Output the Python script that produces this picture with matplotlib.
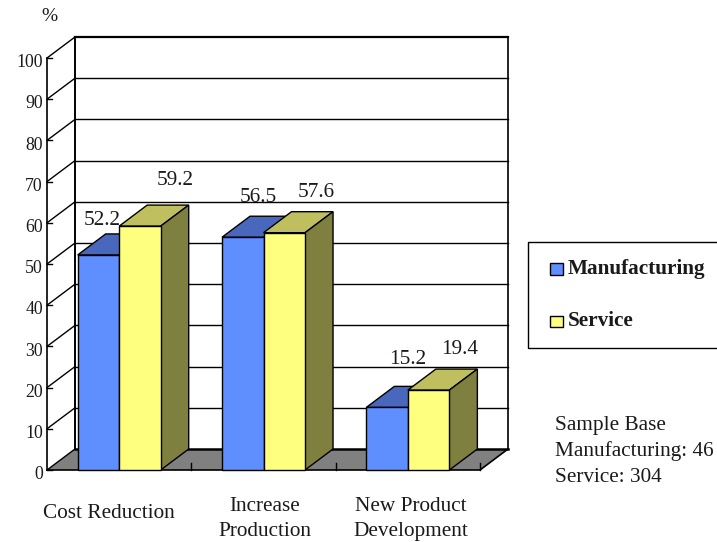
#!/usr/bin/env python3
import matplotlib
matplotlib.use('Agg')
import matplotlib.pyplot as plt
from matplotlib.patches import Polygon, Rectangle

categories = ['Cost Reduction', 'Increase\nProduction', 'New Product\nDevelopment']
manufacturing = [52.2, 56.5, 15.2]
service = [59.2, 57.6, 19.4]
y_ticks = [0, 10, 20, 30, 40, 50, 60, 70, 80, 90, 100]
sample_base = ['Sample Base', 'Manufacturing: 46', 'Service: 304']

W, H = 717, 542
DX = 28 / 144.33   # depth offset in category units
DY = 21 / 4.12     # depth offset in value units
BAR_W = 41.5 / 144.33
GAP = 30.7 / 144.33
TXT = '#1a1a1a'
FS = 15.3

plt.rcParams['font.family'] = ['Liberation Serif', 'DejaVu Serif']


def fx(px):
    return px / W


def fy(py):
    return 1 - py / H


def draw_bar(ax, x0, val, front, top, side):
    x1 = x0 + BAR_W
    edge = dict(edgecolor='black', linewidth=1.0, joinstyle='miter', clip_on=False, zorder=3)
    ax.add_patch(Polygon([(x0, val), (x0 + DX, val + DY), (x1 + DX, val + DY), (x1, val)], facecolor=top, **edge))
    ax.add_patch(Polygon([(x1, 0), (x1 + DX, DY), (x1 + DX, val + DY), (x1, val)], facecolor=side, **edge))
    ax.add_patch(Rectangle((x0, 0), BAR_W, val, facecolor=front, **edge))


fig = plt.figure(figsize=(W / 100, H / 100), dpi=100)
ax = fig.add_axes([fx(47), fy(470), 433 / W, 412 / H])
ax.set_xlim(0, len(categories))
ax.set_ylim(0, 100)
ax.axis('off')

n = len(categories)

# floor
ax.add_patch(Polygon([(0, 0), (n, 0), (n + DX, DY), (DX, DY)], facecolor='#808080', edgecolor='none', clip_on=False, zorder=1))
ax.plot([DX, n + DX], [DY, DY], color='black', lw=1.8, clip_on=False, zorder=2)

# walls and grid
for t in y_ticks:
    top = t == y_ticks[-1]
    if t > 0:
        ax.plot([DX, n + DX], [t + DY, t + DY], color='black', lw=1.6 if top else 1.0, clip_on=False, zorder=2)
    ax.plot([0, DX], [t, t + DY], color='black', lw=1.0, clip_on=False, zorder=2)
    ax.plot([0, 5 / 144.33], [t, t], color='black', lw=1.0, clip_on=False, zorder=2)
    ax.text(-4 / 144.33, t - 1.15, str(t), ha='right', va='center', fontsize=12.8, color=TXT)
ax.plot([0, 0], [0, 100], color='black', lw=1.2, clip_on=False, zorder=2)
ax.plot([DX, DX], [DY, 100 + DY], color='black', lw=1.4, clip_on=False, zorder=2)
ax.plot([n + DX, n + DX], [DY, 100 + DY], color='black', lw=1.2, clip_on=False, zorder=2)

# front baseline and category ticks
ax.plot([0, n, n + DX], [0, 0, DY], color='black', lw=1.2, clip_on=False, zorder=2)
for i in range(1, n + 1):
    ax.plot([i, i], [0, 1.8], color='black', lw=1.0, clip_on=False, zorder=2)

# bars, blue first so the yellow one overlaps it
for i in range(n):
    x0 = i + GAP
    draw_bar(ax, x0, manufacturing[i], '#5F8FFF', '#4A67BE', '#3F5FA0')
    draw_bar(ax, x0 + BAR_W, service[i], '#FFFF7F', '#BFBF5F', '#7F7F3F')

# value labels sit at hand-placed spots in the original
m_offsets = [(4, 34), (16, 40), (21, 48)]
s_offsets = [(35, 46), (32, 40), (31, 41)]
for i in range(n):
    x0 = i + GAP
    ax.annotate(f'{manufacturing[i]}', (x0 + BAR_W / 2, manufacturing[i]), xytext=m_offsets[i],
                textcoords='offset pixels', ha='center', va='center', fontsize=FS, color=TXT,
                annotation_clip=False, zorder=5)
    ax.annotate(f'{service[i]}', (x0 + 1.5 * BAR_W, service[i]), xytext=s_offsets[i],
                textcoords='offset pixels', ha='center', va='center', fontsize=FS, color=TXT,
                annotation_clip=False, zorder=5)

fig.text(fx(49.5), fy(16.5), '%', ha='center', va='center', fontsize=14, color=TXT)

# category labels
cat_x = [109, 265, 411]
for c, px in zip(categories, cat_x):
    lines = c.split('\n')
    if len(lines) == 1:
        fig.text(fx(px), fy(514), c, ha='center', va='center', fontsize=FS, color=TXT)
    else:
        fig.text(fx(px), fy(506.5), lines[0], ha='center', va='center', fontsize=FS, color=TXT)
        fig.text(fx(px), fy(531.5), lines[1], ha='center', va='center', fontsize=FS, color=TXT)

# legend box runs off the right edge
fig.add_artist(Rectangle((fx(528), fy(348)), fx(200), 106 / H, transform=fig.transFigure,
                         facecolor='white', edgecolor='black', lw=1.0))
fig.add_artist(Rectangle((fx(550), fy(275)), 12.5 / W, 12 / H, transform=fig.transFigure,
                         facecolor='#5F8FFF', edgecolor='black', lw=1.0))
fig.add_artist(Rectangle((fx(550), fy(327)), 12.5 / W, 11.5 / H, transform=fig.transFigure,
                         facecolor='#FFFF7F', edgecolor='black', lw=1.0))
fig.text(fx(567.5), fy(269), 'Manufacturing', ha='left', va='center', fontsize=FS, fontweight='bold', color=TXT)
fig.text(fx(567.5), fy(321), 'Service', ha='left', va='center', fontsize=FS, fontweight='bold', color=TXT)

for s, py in zip(sample_base, [425.5, 451.5, 477.5]):
    fig.text(fx(555), fy(py), s, ha='left', va='center', fontsize=FS, color=TXT)

fig.savefig('out.png', dpi=100)
